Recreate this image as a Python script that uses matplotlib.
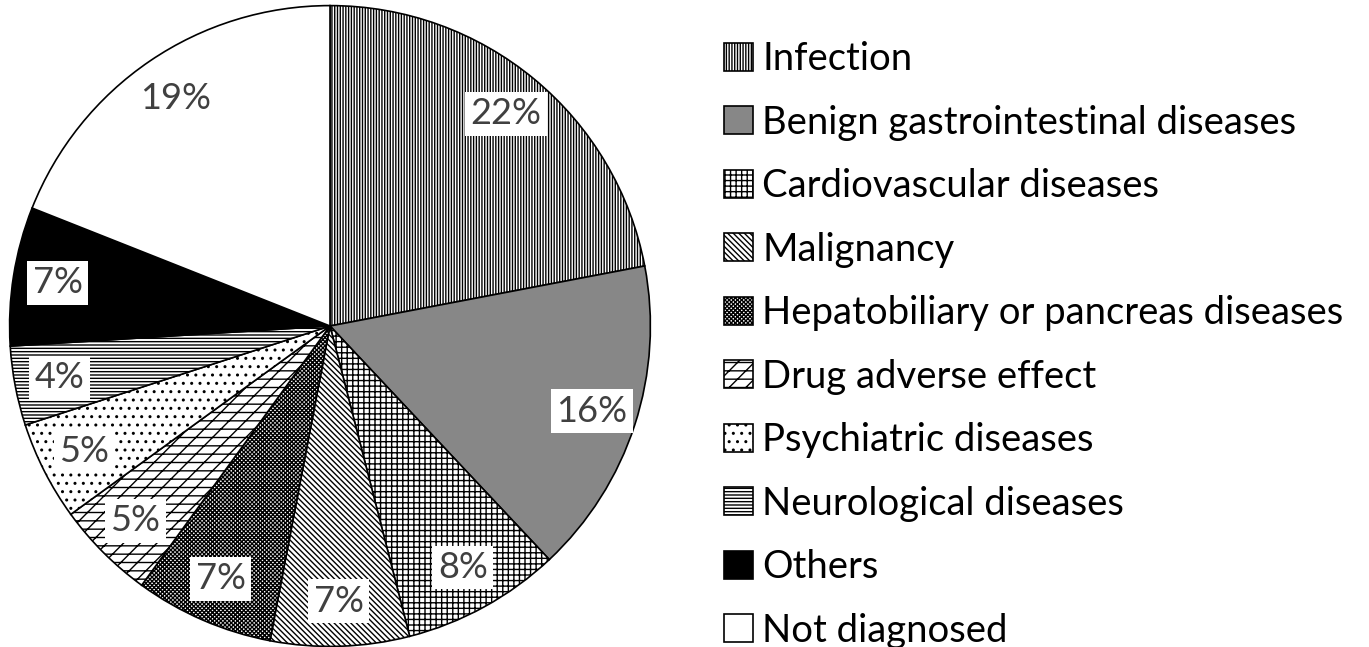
import numpy as np
import matplotlib
matplotlib.use('Agg')
import matplotlib.pyplot as plt

plt.rcParams['font.family'] = ['Lato', 'DejaVu Sans']
plt.rcParams['hatch.linewidth'] = 1.0

categories = ['Infection', 'Benign gastrointestinal diseases', 'Cardiovascular diseases',
              'Malignancy', 'Hepatobiliary or pancreas diseases', 'Drug adverse effect',
              'Psychiatric diseases', 'Neurological diseases', 'Others', 'Not diagnosed']
shares = [22, 16, 8, 7, 7, 5, 5, 4, 7, 19]

hatches = ['||||||', '', '+++', '\\\\\\\\\\\\', 'xxxxxxxx', '//--', '..', '-----', '', '']
faces = ['white', '#878787', 'white', 'white', 'white', 'white', 'white', 'white', 'black', 'white']

fig = plt.figure(figsize=(13.69, 6.47), dpi=100)
cx, cy, r = 330, 326, 322
ax = fig.add_axes([(cx - r) / 1369, (647 - cy - r) / 647, 2 * r / 1369, 2 * r / 647])

wedges, texts, autotexts = ax.pie(
    shares, startangle=90, counterclock=False, colors=faces,
    autopct=lambda p: f'{p:.0f}%', pctdistance=0.86,
    wedgeprops=dict(edgecolor='black', linewidth=1.2),
    textprops=dict(fontsize=26, color='#404040'))
for w, h in zip(wedges, hatches):
    w.set_hatch(h)
for t in autotexts:
    t.set_bbox(dict(facecolor='white', edgecolor='none', pad=4))
ax.set_xlim(-1.005, 1.005)
ax.set_ylim(-1.005, 1.005)
ax.set_aspect('equal')

fig.legend(wedges, categories, loc='upper left', bbox_to_anchor=(709 / 1369, 1 - 26 / 647),
           frameon=False, fontsize=27.5, handlelength=0.75, handleheight=0.75,
           handletextpad=0.25, labelspacing=0.72, borderaxespad=0)

fig.savefig('out.png', dpi=100)
